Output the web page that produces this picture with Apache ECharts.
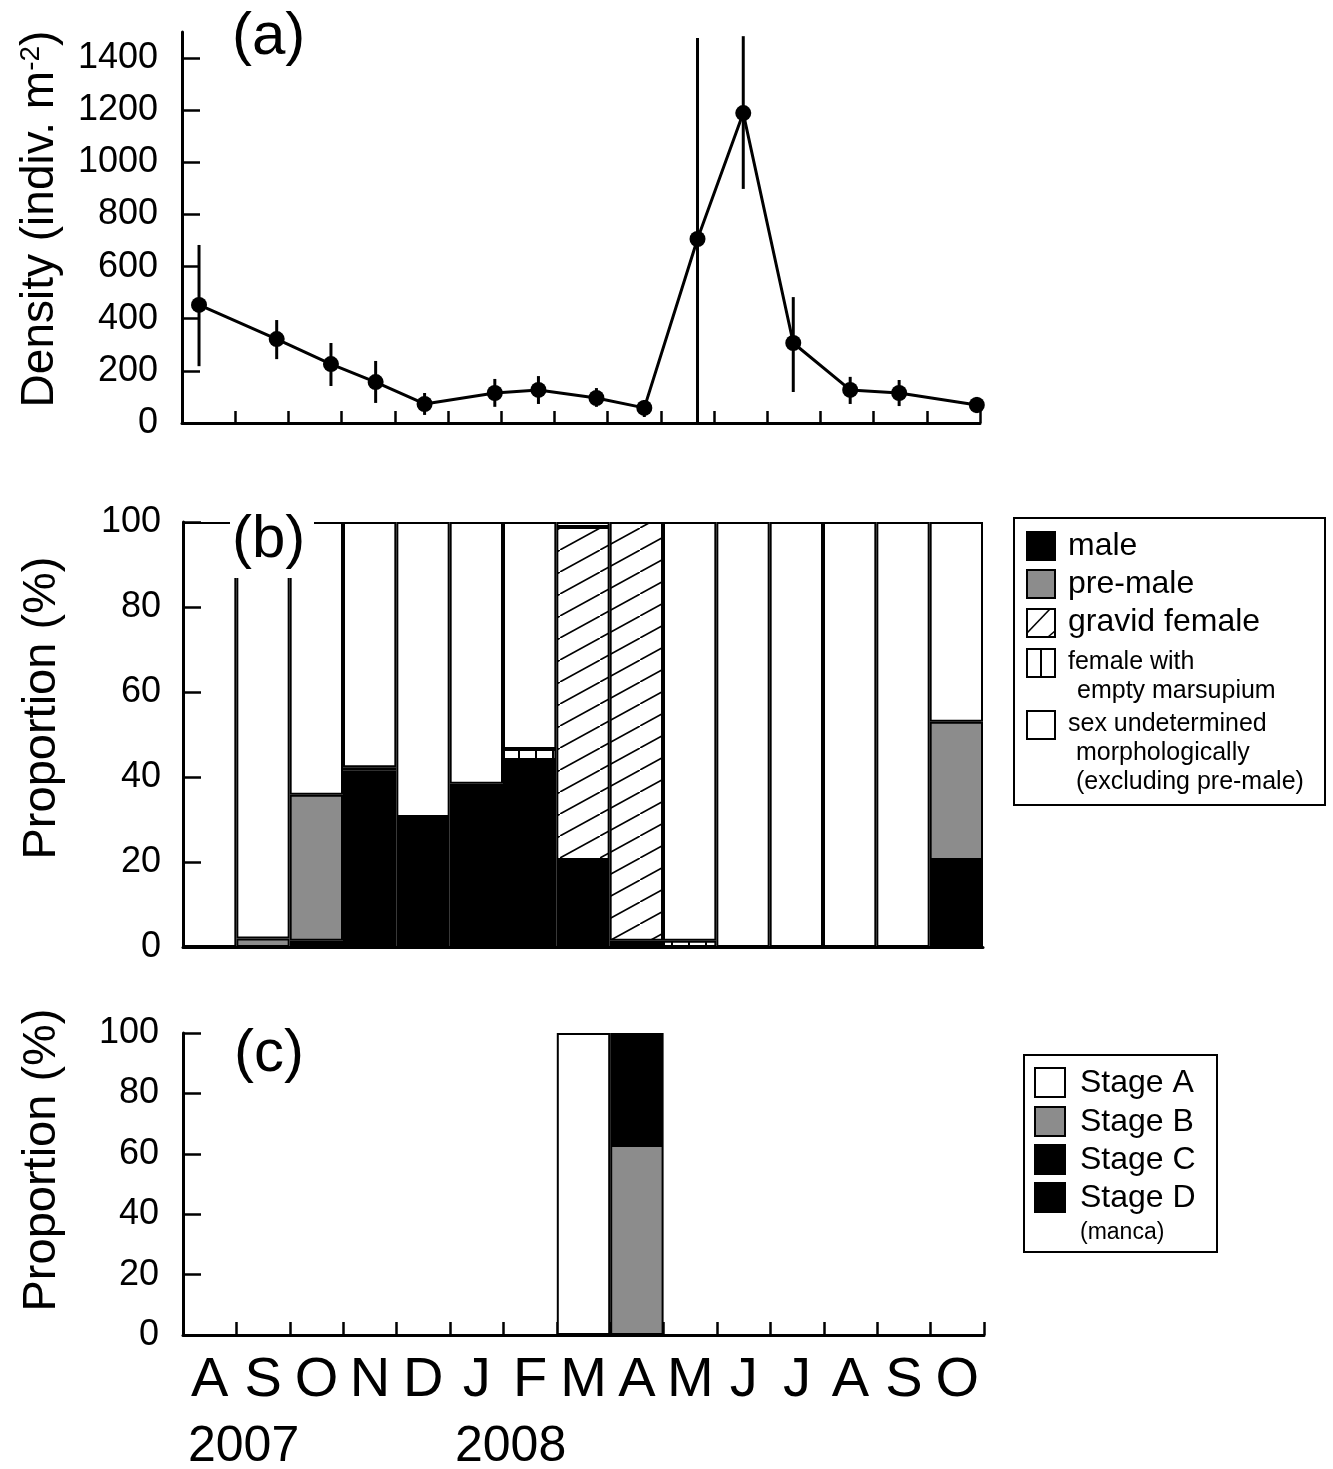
<!DOCTYPE html>
<html>
<head>
<meta charset="utf-8">
<script src="https://cdn.jsdelivr.net/npm/echarts@6/dist/echarts.min.js"></script>
<style>
  html, body { margin: 0; padding: 0; background: #fff; }
  #chart { width: 1333px; height: 1469px; }
</style>
</head>
<body>
<div id="chart"></div>
<script>
// shared month categories (Aug 2007 .. Oct 2008)
const months = ['A', 'S', 'O', 'N', 'D', 'J', 'F', 'M', 'A', 'M', 'J', 'J', 'A', 'S', 'O']
const years = ['2007', '2008']

// (a) density, sampling dates in month units from start of Aug 2007
const densityX = [0.32, 1.78, 2.80, 3.64, 4.56, 5.88, 6.70, 7.79, 8.69, 9.69, 10.55, 11.49, 12.56, 13.48, 14.94]
const densityMean = [453, 322, 226, 157, 73, 115, 127, 96, 58, 706, 1189, 307, 127, 115, 69]
const densityLow = [218, 245, 142, 77, 31, 62, 73, 62, 23, 0, 898, 119, 73, 65, 38]
const densityHigh = [683, 395, 307, 238, 115, 169, 180, 134, 88, 1477, 1484, 483, 177, 165, 100]
const densityTicks = [0, 200, 400, 600, 800, 1000, 1200, 1400]

// (b) proportion of sex categories (%)
const male = [0, 0, 1.5, 41.5, 30.6, 38.4, 44, 20.5, 1.5, 0, 0, 0, 0, 0, 20.5]
const preMale = [0, 2, 34.3, 0.8, 0, 0, 0, 0, 0, 0, 0, 0, 0, 0, 32.5]
const gravidFemale = [0, 0, 0, 0, 0, 0, 0, 78.3, 98.5, 0, 0, 0, 0, 0, 0]
const emptyMarsupium = [0, 0, 0, 0, 0, 0, 2.6, 0, 0, 1.5, 0, 0, 0, 0, 0]
const undetermined = [100, 98, 64.2, 57.7, 69.4, 61.6, 53.4, 1.2, 0, 98.5, 100, 100, 100, 100, 47]

// (c) proportion of brood stages (%)
const stageA = [0, 0, 0, 0, 0, 0, 0, 100, 0, 0, 0, 0, 0, 0, 0]
const stageB = [0, 0, 0, 0, 0, 0, 0, 0, 62.9, 0, 0, 0, 0, 0, 0]
const stageC = [0, 0, 0, 0, 0, 0, 0, 0, 37.1, 0, 0, 0, 0, 0, 0]
const stageD = [0, 0, 0, 0, 0, 0, 0, 0, 0, 0, 0, 0, 0, 0, 0]

const FONT = 'Liberation Sans, Arial, sans-serif'
const GREY = '#8c8c8c'

// hatch fill for gravid female ("/" lines)
const makeHatch = () => {
  const c = document.createElement('canvas')
  c.width = 40
  c.height = 22
  const ctx = c.getContext('2d')
  ctx.fillStyle = '#fff'
  ctx.fillRect(0, 0, 40, 22)
  ctx.strokeStyle = '#000'
  ctx.lineWidth = 1.6
  ctx.beginPath()
  ctx.moveTo(-2, 23.1)
  ctx.lineTo(42, -1.1)
  ctx.stroke()
  return c
}
// vertical stripes for female with empty marsupium
const makeStripes = () => {
  const c = document.createElement('canvas')
  c.width = 17
  c.height = 4
  const ctx = c.getContext('2d')
  ctx.fillStyle = '#fff'
  ctx.fillRect(0, 0, 17, 4)
  ctx.fillStyle = '#000'
  ctx.fillRect(8, 0, 2, 4)
  return c
}
const hatchFill = { image: makeHatch(), repeat: 'repeat' }
const stripeFill = { image: makeStripes(), repeat: 'repeat' }

const nz = arr => arr.map(v => (v === 0 ? '-' : v))

const barSeries = (name, data, fill, xi, stack) => ({
  name,
  type: 'bar',
  xAxisIndex: xi,
  yAxisIndex: xi,
  stack,
  barWidth: '100%',
  data: nz(data),
  itemStyle: { color: fill, borderColor: '#000', borderWidth: 2 },
  emphasis: { disabled: true },
})

const chart = echarts.init(document.getElementById('chart'))

const axisLineStyle = { show: true, lineStyle: { color: '#000', width: 3 } }
const labelStyle = { color: '#000', fontSize: 36, fontFamily: FONT, formatter: v => String(v) }

const text = (x, y, str, size, extra, rotation) => ({
  type: 'text',
  x,
  y,
  z: 100,
  rotation: rotation || 0,
  style: Object.assign({ text: str, fontSize: size, fontFamily: FONT, fill: '#000', align: 'left', verticalAlign: 'middle' }, extra || {}),
})
const rect = (x, y, w, h, fill, lw) => ({
  type: 'rect',
  z: 100,
  shape: { x, y, width: w, height: h },
  style: lw === 0 ? { fill } : { fill, stroke: '#000', lineWidth: lw || 2 },
})
const line = (x1, y1, x2, y2, lw) => ({
  type: 'line',
  z: 101,
  shape: { x1, y1, x2, y2 },
  style: { stroke: '#000', lineWidth: lw || 1.6 },
})

const UP = Math.PI / 2

const graphics = [
  // panel labels
  text(232, 37, '(a)', 60),
  rect(230, 511, 84, 67, '#fff', 0),
  text(232, 540, '(b)', 60),
  text(234, 1054, '(c)', 60),
  // y-axis titles
  text(40, 219, 'Density (indiv. m{sup|-2})', 46, {
    align: 'center',
    rich: { sup: { fontSize: 28, verticalAlign: 'top', fontFamily: FONT, fill: '#000' } },
  }, UP),
  text(42, 708, 'Proportion (%)', 47, { align: 'center' }, UP),
  text(42, 1160, 'Proportion (%)', 47, { align: 'center' }, UP),
  // years
  text(188, 1447, years[0], 50),
  text(455, 1447, years[1], 50),
  // legend (b)
  rect(1014, 518, 311, 287, '#fff'),
  rect(1027, 532, 28, 28, '#000'),
  text(1068, 546, 'male', 32),
  rect(1027, 570, 28, 28, GREY),
  text(1068, 584, 'pre-male', 32),
  rect(1027, 609, 28, 28, '#fff'),
  line(1027, 633, 1050, 609),
  line(1048, 637, 1055, 631),
  text(1068, 622, 'gravid female', 32),
  rect(1027, 649, 28, 28, '#fff'),
  line(1041, 649, 1041, 677, 2),
  text(1068, 662, 'female with', 25),
  text(1077, 691, 'empty marsupium', 25),
  rect(1027, 711, 28, 28, '#fff'),
  text(1068, 724, 'sex undetermined', 25),
  text(1076, 753, 'morphologically', 25),
  text(1076, 782, '(excluding pre-male)', 25),
  // legend (c)
  rect(1024, 1055, 193, 197, '#fff'),
  rect(1035, 1068, 30, 29, '#fff'),
  text(1080, 1083, 'Stage A', 32),
  rect(1035, 1107, 30, 29, GREY),
  text(1080, 1122, 'Stage B', 32),
  rect(1035, 1145, 30, 29, '#000'),
  text(1080, 1160, 'Stage C', 32),
  rect(1035, 1183, 30, 29, '#000'),
  text(1080, 1198, 'Stage D', 32),
  text(1080, 1233, '(manca)', 23),
]

const options = {
  animation: false,
  backgroundColor: '#fff',
  grid: [
    { left: 182, top: 32, width: 798, height: 391, outerBoundsMode: 'none', containLabel: false },
    { left: 183, top: 522, width: 800, height: 425, outerBoundsMode: 'none', containLabel: false },
    { left: 183, top: 1033, width: 801, height: 302, outerBoundsMode: 'none', containLabel: false },
  ],
  xAxis: [
    {
      gridIndex: 0,
      type: 'value',
      min: 0,
      max: 15,
      interval: 1,
      axisLine: axisLineStyle,
      axisTick: { show: true, inside: true, length: 12, lineStyle: { color: '#000', width: 2.5 } },
      axisLabel: { show: false },
      splitLine: { show: false },
    },
    {
      gridIndex: 1,
      type: 'category',
      data: months,
      axisLine: axisLineStyle,
      axisTick: { show: false },
      axisLabel: { show: false },
      z: 10,
    },
    {
      gridIndex: 2,
      type: 'category',
      data: months,
      axisLine: axisLineStyle,
      axisTick: { show: true, inside: true, length: 13, lineStyle: { color: '#000', width: 2.5 } },
      axisLabel: { show: true, interval: 0, margin: 18, color: '#000', fontSize: 56, fontFamily: FONT },
    },
  ],
  yAxis: [
    {
      gridIndex: 0,
      type: 'value',
      min: 0,
      max: 1500,
      interval: 200,
      axisLine: axisLineStyle,
      axisTick: { show: true, inside: true, length: 18, customValues: densityTicks, lineStyle: { color: '#000', width: 2.5 } },
      axisLabel: Object.assign({ margin: 24, customValues: densityTicks }, labelStyle),
      splitLine: { show: false },
    },
    {
      gridIndex: 1,
      type: 'value',
      min: 0,
      max: 100,
      interval: 20,
      z: 10,
      axisLine: axisLineStyle,
      axisTick: { show: true, inside: true, length: 18, lineStyle: { color: '#000', width: 2.5 } },
      axisLabel: Object.assign({ margin: 22 }, labelStyle),
      splitLine: { show: false },
    },
    {
      gridIndex: 2,
      type: 'value',
      min: 0,
      max: 100,
      interval: 20,
      z: 10,
      axisLine: axisLineStyle,
      axisTick: { show: true, inside: true, length: 18, lineStyle: { color: '#000', width: 2.5 } },
      axisLabel: Object.assign({ margin: 24 }, labelStyle),
      splitLine: { show: false },
    },
  ],
  series: [
    {
      name: 'error',
      type: 'custom',
      xAxisIndex: 0,
      yAxisIndex: 0,
      data: densityX.map((x, i) => [x, densityLow[i], densityHigh[i]]),
      encode: { x: 0, y: [1, 2] },
      renderItem: (params, api) => {
        const p1 = api.coord([api.value(0), api.value(1)])
        const p2 = api.coord([api.value(0), api.value(2)])
        return {
          type: 'line',
          shape: { x1: p1[0], y1: p1[1], x2: p2[0], y2: p2[1] },
          style: { stroke: '#000', lineWidth: 3 },
        }
      },
      z: 3,
    },
    {
      name: 'density',
      type: 'line',
      xAxisIndex: 0,
      yAxisIndex: 0,
      data: densityX.map((x, i) => [x, densityMean[i]]),
      symbol: 'circle',
      symbolSize: 16,
      lineStyle: { color: '#000', width: 3 },
      itemStyle: { color: '#000' },
      emphasis: { disabled: true },
      z: 4,
    },
    barSeries('male', male, '#000', 1, 'b'),
    barSeries('pre-male', preMale, GREY, 1, 'b'),
    barSeries('gravid female', gravidFemale, hatchFill, 1, 'b'),
    barSeries('female with empty marsupium', emptyMarsupium, stripeFill, 1, 'b'),
    barSeries('sex undetermined', undetermined, '#fff', 1, 'b'),
    barSeries('Stage A', stageA, '#fff', 2, 'c'),
    barSeries('Stage B', stageB, GREY, 2, 'c'),
    barSeries('Stage C', stageC, '#000', 2, 'c'),
    barSeries('Stage D', stageD, '#000', 2, 'c'),
  ],
  graphic: graphics,
}

chart.setOption(options)
</script>
</body>
</html>
